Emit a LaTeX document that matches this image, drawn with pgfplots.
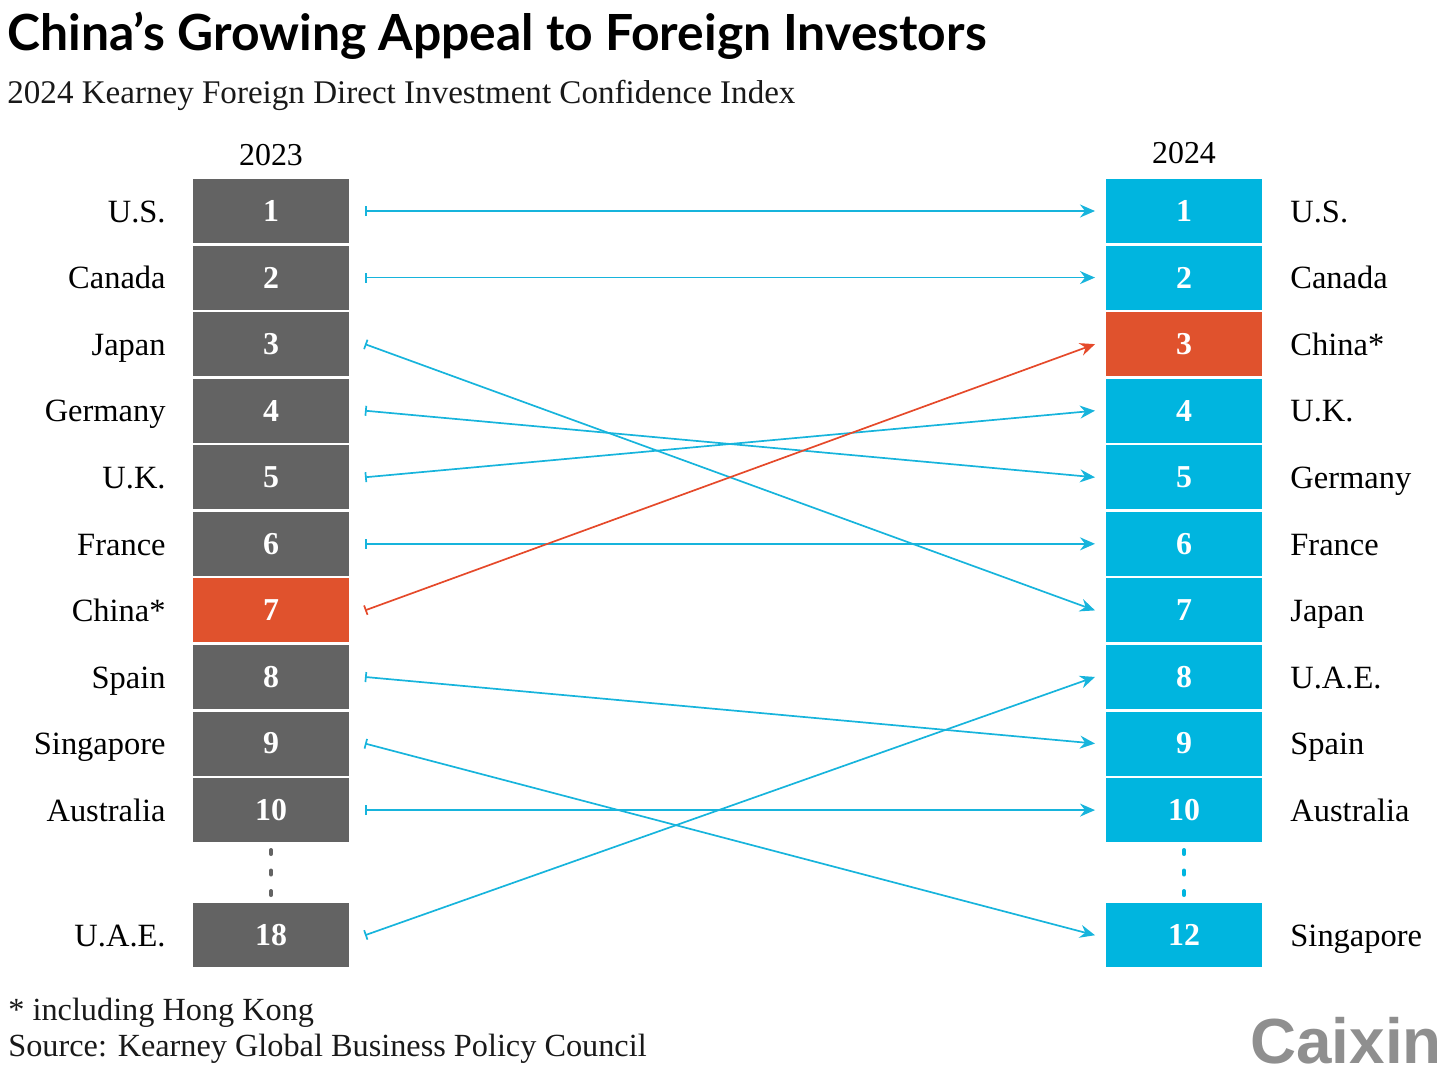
\documentclass[border=0pt]{standalone}
\usepackage{fontspec}
\setmainfont{Liberation Serif}
\newfontfamily\titlefont{Lato}
\newfontfamily\logofont{Liberation Sans}
\usepackage{pgfplots}
\pgfplotsset{compat=1.18}
\usepackage{pgfplotstable}
\usetikzlibrary{arrows.meta}

\definecolor{boxgray}{HTML}{636363}
\definecolor{boxcyan}{HTML}{00B5DF}
\definecolor{boxred}{HTML}{E0522D}
\definecolor{arrcyan}{HTML}{17B4DC}
\definecolor{arrred}{HTML}{E5492A}
\definecolor{logogray}{HTML}{8F8F8F}

% slot = row on the chart (11.88 = row below the dots)
\pgfplotstableread{
slot rank name
1     1  U.S.
2     2  Canada
3     3  Japan
4     4  Germany
5     5  U.K.
6     6  France
8     8  Spain
9     9  Singapore
10    10 Australia
11.88 18 U.A.E.
}\leftrows
\pgfplotstableread{
slot rank name
1     1  U.S.
2     2  Canada
4     4  U.K.
5     5  Germany
6     6  France
7     7  Japan
8     8  U.A.E.
9     9  Spain
10    10 Australia
11.88 12 Singapore
}\rightrows
\pgfplotstableread{
slot rank name
7 7 China*
}\leftchina
\pgfplotstableread{
slot rank name
3 3 China*
}\rightchina

\begin{document}
\begin{tikzpicture}
\begin{axis}[
  scale only axis,
  width=728bp, height=540.5bp,
  xmin=0, xmax=1456,
  ymin=-2.17, ymax=14.07,
  y dir=reverse,
  hide axis,
  clip=false,
  rankbox/.style={draw=none, mark=none,
    nodes near coords, point meta=explicit symbolic,
    every node near coord/.append style={anchor=center, fill=#1,
      minimum width=78bp, minimum height=32bp, inner sep=0pt,
      text=white, font=\fontsize{16}{18}\selectfont\bfseries}},
  namelbl/.style={draw=none, mark=none,
    nodes near coords, point meta=explicit symbolic,
    every node near coord/.append style={anchor=base #1, inner sep=0pt,
      yshift=-5.6bp, text=black, font=\fontsize{16.3}{19}\selectfont}},
  arr/.style={#1, line width=0.85bp,
    {Bar[width=5bp,line width=0.85bp]}-{Stealth[length=7.5bp,width=6.5bp,inset=2.5bp]}},
]
% boxes
\addplot[rankbox=boxgray] table[x expr=271, y=slot, meta=rank] {\leftrows};
\addplot[rankbox=boxred]  table[x expr=271, y=slot, meta=rank] {\leftchina};
\addplot[rankbox=boxcyan] table[x expr=1184, y=slot, meta=rank] {\rightrows};
\addplot[rankbox=boxred]  table[x expr=1184, y=slot, meta=rank] {\rightchina};
% names
\addplot[namelbl=east] table[x expr=166, y=slot, meta=name] {\leftrows};
\addplot[namelbl=east] table[x expr=166, y=slot, meta=name] {\leftchina};
\addplot[namelbl=west] table[x expr=1290, y=slot, meta=name] {\rightrows};
\addplot[namelbl=west] table[x expr=1290, y=slot, meta=name] {\rightchina};
% dotted gaps
\addplot[boxgray, line width=2bp, line cap=round, dash pattern=on 2bp off 8.25bp]
  coordinates {(271,10.60) (271,11.30)};
\addplot[boxcyan, line width=2bp, line cap=round, dash pattern=on 2bp off 8.25bp]
  coordinates {(1184,10.60) (1184,11.30)};
% arrows 2023 -> 2024
\addplot[arr=arrcyan] coordinates {(365,1) (1095,1)};
\addplot[arr=arrcyan] coordinates {(365,2) (1095,2)};
\addplot[arr=arrcyan] coordinates {(365,3) (1095,7)};
\addplot[arr=arrcyan] coordinates {(365,4) (1095,5)};
\addplot[arr=arrcyan] coordinates {(365,5) (1095,4)};
\addplot[arr=arrcyan] coordinates {(365,6) (1095,6)};
\addplot[arr=arrcyan] coordinates {(365,8) (1095,9)};
\addplot[arr=arrcyan] coordinates {(365,9) (1095,11.88)};
\addplot[arr=arrcyan] coordinates {(365,10) (1095,10)};
\addplot[arr=arrcyan] coordinates {(365,11.88) (1095,8)};
\addplot[arr=arrred]  coordinates {(365,7) (1095,3)};
% texts
\node[anchor=west, inner sep=0pt, font=\titlefont\fontsize{25}{28}\selectfont\bfseries]
  at (axis cs:7,-1.63) {China’s Growing Appeal to Foreign Investors};
\node[anchor=west, inner sep=0pt, font=\fontsize{16.6}{19}\selectfont, text=black!90]
  at (axis cs:7,-0.74) {2024 Kearney Foreign Direct Investment Confidence Index};
\node[inner sep=0pt, font=\fontsize{16}{18}\selectfont] at (axis cs:271,0.16) {2023};
\node[inner sep=0pt, font=\fontsize{16}{18}\selectfont] at (axis cs:1184,0.13) {2024};
\node[anchor=west, inner sep=0pt, font=\fontsize{16.2}{19}\selectfont, text=black!90]
  at (axis cs:8,13.05) {* including Hong Kong};
\node[anchor=west, inner sep=0pt, font=\fontsize{16.2}{19}\selectfont, text=black!90]
  at (axis cs:8,13.59) {Source: Kearney Global Business Policy Council};
\node[inner sep=0pt, font=\logofont\fontsize{32}{34}\selectfont\bfseries, text=logogray]
  at (axis cs:1346,13.46) {Caixin};
\end{axis}
\pgfresetboundingbox
\path[use as bounding box] (current axis.south west) rectangle (current axis.north east);
\end{tikzpicture}
\end{document}
